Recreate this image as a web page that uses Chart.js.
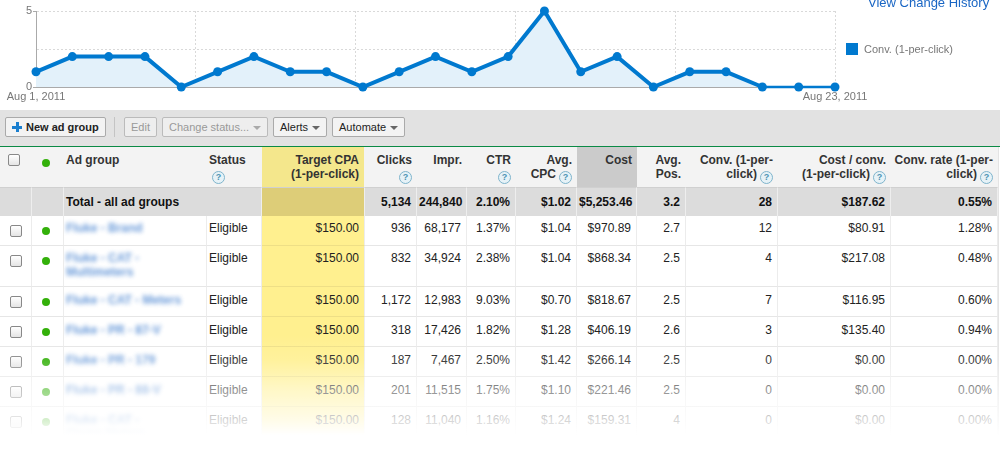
<!DOCTYPE html>
<html>
<head>
<meta charset="utf-8">
<script src="https://cdn.jsdelivr.net/npm/chart.js@4"></script>
<style>
  html, body { margin: 0; width: 1000px; height: 449px; overflow: hidden; background: #fff; }
  body { position: relative; font: 12px "Liberation Sans", Arial, sans-serif; color: #222; }
  #chartBox { position: absolute; left: 0; top: 0; width: 1000px; height: 110px; }
  #historyLink { position: absolute; left: 868px; top: -4px; font-size: 13px; line-height: 14px; color: #1a66c4; }
  #legend { position: absolute; left: 846px; top: 43px; height: 12px; font-size: 11px; line-height: 12px; color: #777; white-space: nowrap; }
  #legend i { display: inline-block; width: 12px; height: 12px; margin-right: 6px; vertical-align: top; }

  /* toolbar */
  #toolbar { position: absolute; left: 0; top: 110px; width: 1000px; height: 36px; background: #e2e2e2; border-bottom: 1px solid #0a8a45; box-sizing: content-box; }
  .btn { position: absolute; top: 7px; height: 20px; box-sizing: border-box; border: 1px solid #aaa; border-radius: 2px; background: #f3f3f3; font-size: 11px; line-height: 18px; padding-left: 6px; white-space: nowrap; color: #222; }
  .btn.off { color: #999; border-color: #bbb; background: #eee; }
  .btn.bold { font-weight: bold; padding-left: 20px; }
  .btn .arrow { position: absolute; right: 6px; top: 8px; width: 0; height: 0; border: 4px solid transparent; border-top: 4px solid #666; border-bottom: 0; }
  .btn.off .arrow { border-top-color: #aaa; }
  .plus { position: absolute; left: 6px; top: 4px; width: 10px; height: 10px;
    background: linear-gradient(#1a7fcf, #1a7fcf) center / 10px 3px no-repeat, linear-gradient(#1a7fcf, #1a7fcf) center / 3px 10px no-repeat; }
  .sep { position: absolute; left: 114px; top: 7px; width: 1px; height: 20px; background: #c4c4c4; }

  /* table */
  #grid { position: absolute; left: 0; top: 147px; width: 998px; border-collapse: separate; border-spacing: 0; table-layout: fixed; border-right: 1px solid #e4e4e4; }
  #grid td, #grid th { box-sizing: border-box; padding: 6px 5px 0 2px; vertical-align: top; text-align: right; white-space: pre-line; line-height: 14px; font-size: 12px; overflow: hidden; }
  #grid th { height: 40px; background: #f3f3f3; color: #333; font-weight: bold; }
  #grid th.left, #grid td.left { text-align: left; }
  #grid th.target { background: #f4e78c; border-right: 1px solid #f3f3f3; }
  #grid th.sorted { background: #cbcbcb; }
  #grid tr.total td { height: 29px; padding-top: 7px; background: #dcdcdc; font-weight: bold; color: #111; border-right: 1px solid #eee; border-top: 1px solid #d0d0d0; }
  #grid tr.total td.target { background: #ddcd78; }
  #grid tr.row td { height: 30px; padding-top: 5px; background: #fff; border-right: 1px solid #ececec; border-bottom: 1px solid #e6e6e6; }
  #grid tr.row.tall td { height: 41px; }
  #grid tr.row.tall ~ tr.row td { padding-top: 6px; }
  #grid tr.row td.target { background: #fff08f; border-bottom-color: #eedf86; }
  #grid td.name span { color: #2a6fc9; filter: blur(2px); opacity: .7; display: block; font-weight: bold; }
  .check { display: block; width: 12px; height: 12px; box-sizing: border-box; margin: 4px 0 0 10px; border: 1px solid #888; border-radius: 2px; background: linear-gradient(#fff, #e4e4e4); }
  tr.tall ~ tr .check { margin-top: 3px; }
  th .check { margin: 1px 0 0 8px; }
  .dot { display: block; width: 8px; height: 8px; margin: 6px 0 0 10px; border-radius: 50%; background: #33b00a; }
  tr.tall ~ tr .dot { margin-top: 5px; }
  th .dot { margin-top: 6px; }
  .help { display: inline-block; width: 13px; height: 13px; box-sizing: border-box; margin-left: 3px; border: 1px solid #7fb4cc; border-radius: 50%; background: #e6f2f7; color: #4f93b3; font: bold 9px/11px "Liberation Sans", Arial, sans-serif; text-align: center; vertical-align: -2px; }
  #fade { position: absolute; left: 0; top: 335px; width: 1000px; height: 114px; pointer-events: none;
    background: linear-gradient(rgba(255,255,255,0) 0, rgba(255,255,255,.12) 25px, rgba(255,255,255,.5) 55px, rgba(255,255,255,.8) 85px, #fff 100px); }
</style>
</head>
<body>
<div id="chartBox"><canvas id="convChart" width="1000" height="110"></canvas></div>
<div id="historyLink">View Change History</div>
<div id="legend"></div>

<div id="toolbar">
  <div class="btn bold" style="left:5px;width:101px"><span class="plus"></span>New ad group</div>
  <div class="sep"></div>
  <div class="btn off" style="left:124px;width:33px">Edit</div>
  <div class="btn off" style="left:162px;width:106px">Change status...<span class="arrow"></span></div>
  <div class="btn" style="left:273px;width:54px">Alerts<span class="arrow"></span></div>
  <div class="btn" style="left:332px;width:73px">Automate<span class="arrow"></span></div>
</div>

<table id="grid"><colgroup id="cols"></colgroup><tbody id="gridBody"></tbody></table>
<div id="fade"></div>

<script>
// Chart values
const seriesName = "Conv. (1-per-click)";
const conversions = [1, 2, 2, 2, 0, 1, 2, 1, 1, 0, 1, 2, 1, 2, 5, 1, 2, 0, 1, 1, 0, 0, 0];
const yTicks = [0, 2.5, 5];
const yTickLabels = ["0", "", "5"];
const xGridTicks = [0, 4.4, 8.8, 13.2, 17.6, 22];
const xTickLabels = ["Aug 1, 2011", "", "", "", "", "Aug 23, 2011"];

// Table values
const headers = ["Ad group", "Status", "Target CPA\n(1-per-click)", "Clicks", "Impr.", "CTR", "Avg.\nCPC", "Cost", "Avg.\nPos.", "Conv. (1-per-\nclick)", "Cost / conv.\n(1-per-click)", "Conv. rate (1-per-\nclick)"];
const headersWithHelp = ["Status", "Clicks", "CTR", "Avg.\nCPC", "Conv. (1-per-\nclick)", "Cost / conv.\n(1-per-click)", "Conv. rate (1-per-\nclick)"];
const totalRow = ["Total - all ad groups", "", "5,134", "244,840", "2.10%", "$1.02", "$5,253.46", "3.2", "28", "$187.62", "0.55%"];
const adGroups = ["Fluke - Brand", "Fluke - CAT -\nMultimeters", "Fluke - CAT - Meters", "Fluke - PR - 87-V", "Fluke - PR - 179", "Fluke - PR - 88-V", "Fluke - CAT -\nClamp Meters"];
const statuses = ["Eligible", "Eligible", "Eligible", "Eligible", "Eligible", "Eligible", "Eligible"];
const targetCpa = ["$150.00", "$150.00", "$150.00", "$150.00", "$150.00", "$150.00", "$150.00"];
const clicks = ["936", "832", "1,172", "318", "187", "201", "128"];
const impressions = ["68,177", "34,924", "12,983", "17,426", "7,467", "11,515", "11,040"];
const ctr = ["1.37%", "2.38%", "9.03%", "1.82%", "2.50%", "1.75%", "1.16%"];
const avgCpc = ["$1.04", "$1.04", "$0.70", "$1.28", "$1.42", "$1.10", "$1.24"];
const cost = ["$970.89", "$868.34", "$818.67", "$406.19", "$266.14", "$221.46", "$159.31"];
const avgPos = ["2.7", "2.5", "2.5", "2.6", "2.5", "2.5", "4"];
const conv = ["12", "4", "7", "3", "0", "0", "0"];
const costPerConv = ["$80.91", "$217.08", "$116.95", "$135.40", "$0.00", "$0.00", "$0.00"];
const convRate = ["1.28%", "0.48%", "0.60%", "0.94%", "0.00%", "0.00%", "0.00%"];

const columnWidths = [32, 32, 143, 55, 103, 52, 50, 49, 61, 60, 49, 92, 113, 107];
const lineColor = "#0079cf";

// Build the table
document.getElementById("cols").innerHTML = columnWidths.map((w) => `<col style="width:${w}px">`).join("");

const helpIcon = '<span class="help">?</span>';
let gridHtml = '<tr><th class="left" style="padding-left:0"><span class="check"></span></th><th class="left" style="padding-left:0"><span class="dot"></span></th>';
headers.forEach((h, i) => {
  const cls = i < 2 ? "left" : i === 2 ? "target" : h === "Cost" ? "sorted" : "";
  let text = h;
  if (headersWithHelp.includes(h)) {
    text += h.includes("\n") ? helpIcon : "\n" + helpIcon;
  }
  gridHtml += `<th class="${cls}">${text}</th>`;
});
gridHtml += "</tr>";

gridHtml += `<tr class="total"><td></td><td></td><td class="left" colspan="2">${totalRow[0]}</td><td class="target"></td>`;
totalRow.slice(2).forEach((v) => { gridHtml += `<td>${v}</td>`; });
gridHtml += "</tr>";

adGroups.forEach((name, i) => {
  const tall = name === adGroups[1] ? " tall" : "";
  const numbers = [clicks[i], impressions[i], ctr[i], avgCpc[i], cost[i], avgPos[i], conv[i], costPerConv[i], convRate[i]];
  gridHtml += `<tr class="row${tall}">
    <td class="left" style="padding-left:0"><span class="check"></span></td>
    <td class="left" style="padding-left:0"><span class="dot"></span></td>
    <td class="left name"><span>${name}</span></td>
    <td class="left">${statuses[i]}</td>
    <td class="target">${targetCpa[i]}</td>
    ${numbers.map((v) => `<td>${v}</td>`).join("")}
  </tr>`;
});
document.getElementById("gridBody").innerHTML = gridHtml;

document.getElementById("legend").innerHTML = `<i style="background:${lineColor}"></i>${seriesName}`;

// Draw the chart
new Chart(document.getElementById("convChart").getContext("2d"), {
  type: "line",
  data: {
    datasets: [
      {
        label: seriesName,
        data: conversions.map((v, i) => ({ x: i, y: v })),
        borderColor: lineColor,
        borderWidth: 4,
        backgroundColor: "#e3f1fa",
        fill: "start",
        tension: 0,
        pointRadius: 4.5,
        pointBackgroundColor: lineColor,
        pointBorderColor: lineColor,
        pointBorderWidth: 0,
        clip: false,
        // the line runs along the baseline at the end and looks thinner there
        segment: {
          borderWidth: (ctx) => (ctx.p0.parsed.y === 0 && ctx.p1.parsed.y === 0 ? 2.5 : 4),
        },
      },
    ],
  },
  options: {
    responsive: false,
    animation: false,
    layout: { padding: { top: 11, right: 165, left: 0, bottom: 0 } },
    plugins: { legend: { display: false }, tooltip: { enabled: false } },
    scales: {
      x: {
        type: "linear",
        min: 0,
        max: 22,
        afterBuildTicks: (scale) => { scale.ticks = xGridTicks.map((v) => ({ value: v })); },
        afterFit: (scale) => { scale.height = 23; },
        grid: { color: "#d9d9d9", drawTicks: false, tickLength: 0 },
        border: { color: "#aaa", dash: [2, 2] },
        ticks: {
          autoSkip: false,
          maxRotation: 0,
          padding: 3,
          color: "#777",
          font: { family: "Liberation Sans", size: 11 },
          callback: (value) => xTickLabels[xGridTicks.indexOf(value)],
        },
      },
      y: {
        min: 0,
        max: 5,
        afterBuildTicks: (scale) => { scale.ticks = yTicks.map((v) => ({ value: v })); },
        afterFit: (scale) => { scale.width = 36; },
        grid: {
          color: "#d9d9d9",
          tickLength: 3,
          tickColor: (ctx) => (ctx.tick && yTickLabels[yTicks.indexOf(ctx.tick.value)] ? "#aaa" : "transparent"),
        },
        border: { color: "#aaa", dash: [2, 2] },
        ticks: {
          padding: 1,
          color: "#777",
          font: { family: "Liberation Sans", size: 11 },
          callback: (value) => yTickLabels[yTicks.indexOf(value)],
        },
      },
    },
  },
});
</script>
</body>
</html>
